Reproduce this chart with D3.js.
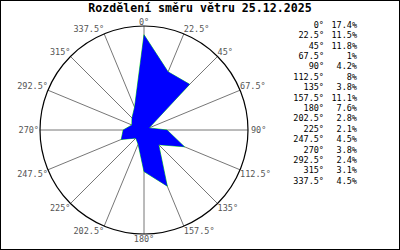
<!DOCTYPE html>
<html><head><meta charset="utf-8">
<script src="https://cdn.jsdelivr.net/npm/d3@7"></script>
<style>body{margin:0;background:#fff}svg{display:block}</style>
</head><body>
<script>
const titleText = "Rozdělení směru větru 25.12.2025";
const directions = [0, 22.5, 45, 67.5, 90, 112.5, 135, 157.5, 180, 202.5, 225, 247.5, 270, 292.5, 315, 337.5];
const values = [17.4, 11.5, 11.8, 1, 4.2, 8, 3.8, 11.1, 7.6, 2.8, 2.1, 4.5, 3.8, 2.4, 3.1, 4.5];
const dirLabels = ["0°","22.5°","45°","67.5°","90°","112.5°","135°","157.5°","180°","202.5°","225°","247.5°","270°","292.5°","315°","337.5°"];
const pctLabels = ["17.4%","11.5%","11.8%","1%","4.2%","8%","3.8%","11.1%","7.6%","2.8%","2.1%","4.5%","3.8%","2.4%","3.1%","4.5%"];
const scaleMax = 19;

const W = 400, H = 250, cx = 144, cy = 130, R = 104;
const font = "'DejaVu Sans Mono', monospace";
const svg = d3.select("body").append("svg").attr("width", W).attr("height", H);
svg.append("rect").attr("x",0.5).attr("y",0.5).attr("width",W-1).attr("height",H-1).attr("fill","#fff").attr("stroke","#000");

svg.append("text").attr("x",200).attr("y",12).attr("text-anchor","middle")
  .attr("font-family",font).attr("font-weight","bold").attr("font-size",11.6).attr("fill","#000").text(titleText);

const g = svg.append("g").attr("transform",`translate(${cx},${cy})`);
const r = d3.scaleLinear().domain([0, scaleMax]).range([0, R]);
const rad = d => d * Math.PI / 180;

// spokes
g.selectAll("line.spoke").data(directions).join("line")
  .attr("x1",0).attr("y1",0)
  .attr("x2",d=>R*Math.sin(rad(d))).attr("y2",d=>-R*Math.cos(rad(d)))
  .attr("stroke","#777").attr("stroke-width",1);
g.append("circle").attr("r",R).attr("fill","none").attr("stroke","#000").attr("stroke-width",1.2);

const radial = d3.lineRadial().angle((d,i)=>rad(directions[i])).radius(d=>r(d)).curve(d3.curveLinearClosed);
g.append("path").attr("d",radial(values)).attr("fill","none").attr("stroke","#00e000").attr("stroke-width",0.8);
g.append("path").attr("d",radial(values)).attr("fill","#0000ff").attr("stroke","none");

// direction labels
g.selectAll("text.lbl").data(directions).join("text")
  .attr("font-family",font).attr("font-size",8.5).attr("fill","#555")
  .attr("x",d=>{const s=Math.sin(rad(d)); return R*s + (Math.abs(s)>0.99 ? (s>0?3:-1) : 0);})
  .attr("y",d=>-R*Math.cos(rad(d)))
  .attr("text-anchor",d=>{const s=Math.sin(rad(d)); return s>0.01?"start":(s<-0.01?"end":"middle");})
  .attr("dy",d=>{const c=Math.cos(rad(d)); return c>0.01?"-1.5":(c<-0.01?"0.9em":"0.33em");})
  .text((d,i)=>dirLabels[i]);

// legend
const lg = svg.append("g");
const ly = d3.scaleLinear().domain([0, directions.length-1]).range([25, 181]);
lg.selectAll("text.a").data(dirLabels).join("text")
  .attr("x",324).attr("y",(d,i)=>ly(i)).attr("dy","0.33em").attr("text-anchor","end")
  .attr("font-family",font).attr("font-size",8.5).attr("fill","#000").text(d=>d);
lg.selectAll("text.p").data(pctLabels).join("text")
  .attr("x",357).attr("y",(d,i)=>ly(i)).attr("dy","0.33em").attr("text-anchor","end")
  .attr("font-family",font).attr("font-size",8.5).attr("fill","#000").text(d=>d);
</script>
</body></html>
